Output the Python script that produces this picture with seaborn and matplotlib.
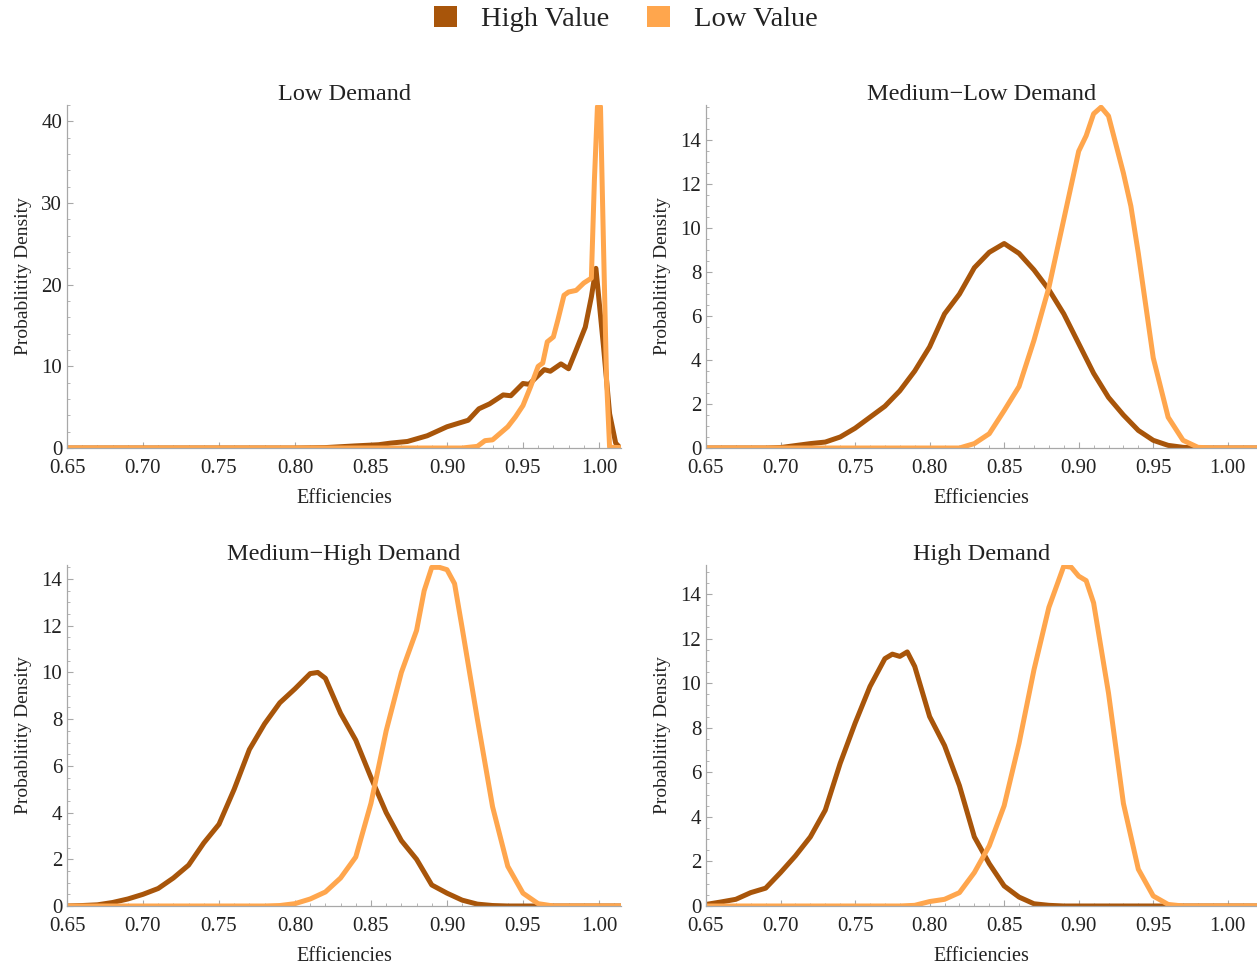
import numpy as np
import pandas as pd
import seaborn as sns
import matplotlib
matplotlib.use("Agg")
import matplotlib.pyplot as plt
from matplotlib.patches import Patch
from matplotlib.ticker import MultipleLocator, FormatStrFormatter

# ---------------- data ----------------
panel_titles = ["Low Demand", "Medium\u2212Low Demand", "Medium\u2212High Demand", "High Demand"]
series_names = ["High Value", "Low Value"]

# Low Demand
ld_high_x = [0.65, 0.80, 0.82, 0.839, 0.855, 0.863, 0.874, 0.887, 0.90, 0.914, 0.921, 0.928, 0.937,
             0.942, 0.950, 0.954, 0.964, 0.968, 0.975, 0.980, 0.985, 0.991, 0.995, 0.998, 1.003,
             1.007, 1.011, 1.014, 1.02]
ld_high_y = [0.0, 0.0, 0.05, 0.25, 0.4, 0.6, 0.8, 1.5, 2.6, 3.4, 4.8, 5.4, 6.5,
             6.4, 7.9, 7.8, 9.6, 9.4, 10.3, 9.7, 12.0, 14.8, 18.5, 22.0, 12.4,
             4.2, 0.6, 0.0, 0.0]
ld_low_x = [0.65, 0.90, 0.91, 0.92, 0.925, 0.93, 0.935, 0.94, 0.945, 0.95, 0.955, 0.96, 0.963,
            0.966, 0.970, 0.973, 0.977, 0.980, 0.985, 0.990, 0.995, 0.997, 0.999, 1.001,
            1.003, 1.005, 1.007, 1.02]
ld_low_y = [0.0, 0.0, 0.0, 0.2, 0.9, 1.0, 1.8, 2.6, 3.8, 5.2, 7.5, 10.0, 10.4,
            13.0, 13.6, 15.7, 18.7, 19.1, 19.3, 20.2, 20.8, 32.8, 41.8, 41.8,
            24.7, 8.3, 0.1, 0.0]

# Medium-Low Demand
ml_high_x = [0.65, 0.69, 0.70, 0.72, 0.73, 0.74, 0.75, 0.76, 0.77, 0.78, 0.79, 0.80, 0.81, 0.82,
             0.83, 0.84, 0.85, 0.86, 0.87, 0.88, 0.89, 0.90, 0.91, 0.92, 0.93, 0.94, 0.95,
             0.96, 0.97, 0.98, 1.02]
ml_high_y = [0.0, 0.0, 0.02, 0.2, 0.27, 0.5, 0.9, 1.4, 1.9, 2.6, 3.5, 4.6, 6.1, 7.0,
             8.2, 8.9, 9.3, 8.85, 8.1, 7.2, 6.1, 4.75, 3.4, 2.3, 1.5, 0.8, 0.35,
             0.12, 0.03, 0.0, 0.0]
ml_low_x = [0.65, 0.82, 0.83, 0.84, 0.85, 0.86, 0.87, 0.88, 0.89, 0.90, 0.905, 0.91, 0.915,
            0.92, 0.93, 0.935, 0.94, 0.95, 0.96, 0.97, 0.98, 0.99, 1.02]
ml_low_y = [0.0, 0.0, 0.2, 0.65, 1.7, 2.8, 4.9, 7.3, 10.4, 13.5, 14.2, 15.2, 15.5,
            15.1, 12.5, 11.0, 8.85, 4.1, 1.4, 0.35, 0.03, 0.0, 0.0]

# Medium-High Demand
mh_high_x = [0.65, 0.66, 0.67, 0.68, 0.69, 0.70, 0.71, 0.72, 0.73, 0.74, 0.75, 0.76, 0.77, 0.78,
             0.79, 0.80, 0.81, 0.815, 0.82, 0.83, 0.84, 0.85, 0.86, 0.87, 0.88, 0.89, 0.90,
             0.91, 0.92, 0.93, 0.94, 1.02]
mh_high_y = [0.0, 0.02, 0.05, 0.15, 0.3, 0.5, 0.75, 1.2, 1.75, 2.7, 3.5, 5.0, 6.7, 7.8,
             8.7, 9.3, 9.95, 10.0, 9.75, 8.25, 7.1, 5.5, 4.0, 2.8, 2.0, 0.9, 0.55,
             0.25, 0.08, 0.02, 0.0, 0.0]
mh_low_x = [0.65, 0.78, 0.79, 0.80, 0.81, 0.82, 0.83, 0.84, 0.85, 0.86, 0.87, 0.88, 0.885,
            0.89, 0.895, 0.90, 0.905, 0.91, 0.92, 0.93, 0.94, 0.95, 0.96, 0.97, 1.02]
mh_low_y = [0.0, 0.0, 0.02, 0.1, 0.3, 0.6, 1.2, 2.1, 4.4, 7.5, 10.0, 11.8, 13.5,
            14.5, 14.5, 14.4, 13.8, 11.9, 8.0, 4.25, 1.7, 0.55, 0.1, 0.0, 0.0]

# High Demand
hd_high_x = [0.65, 0.66, 0.67, 0.68, 0.69, 0.70, 0.71, 0.72, 0.73, 0.74, 0.75, 0.76, 0.77, 0.775,
             0.78, 0.785, 0.79, 0.80, 0.81, 0.82, 0.83, 0.84, 0.85, 0.86, 0.87, 0.88, 0.89, 1.02]
hd_high_y = [0.07, 0.18, 0.3, 0.6, 0.8, 1.5, 2.25, 3.1, 4.3, 6.4, 8.2, 9.85, 11.1, 11.3,
             11.2, 11.4, 10.75, 8.5, 7.2, 5.4, 3.1, 1.9, 0.9, 0.4, 0.1, 0.03, 0.0, 0.0]
hd_low_x = [0.65, 0.78, 0.79, 0.80, 0.81, 0.82, 0.83, 0.84, 0.85, 0.86, 0.87, 0.88, 0.89,
            0.895, 0.90, 0.905, 0.91, 0.92, 0.93, 0.94, 0.95, 0.96, 0.97, 1.02]
hd_low_y = [0.0, 0.0, 0.03, 0.2, 0.3, 0.6, 1.5, 2.7, 4.5, 7.3, 10.6, 13.4, 15.25,
            15.2, 14.8, 14.6, 13.6, 9.55, 4.6, 1.65, 0.45, 0.07, 0.0, 0.0]

x_ticks = [0.65, 0.70, 0.75, 0.80, 0.85, 0.90, 0.95, 1.00]
y_ticks_low = [0, 10, 20, 30, 40]
y_ticks_other = [0, 2, 4, 6, 8, 10, 12, 14]

# ---------------- styling ----------------
sns.set_theme(style="ticks")
plt.rcParams['font.family'] = ['Liberation Serif', 'DejaVu Serif']

colors = {"High Value": "#A8550A", "Low Value": "#FFA64D"}
axis_gray = "#A8A8A8"
text_col = "#222222"

fig = plt.figure(figsize=(12.57, 9.68), dpi=100)
W, H = 1257.0, 968.0

# axes boxes in pixels: (left, right, top, bottom)
boxes = [(67, 621, 105, 448), (706, 1257, 105, 448),
         (67, 621, 565, 906), (706, 1257, 565, 906)]
ylims = [42.0, 15.6, 14.6, 15.3]
xmaxes = [1.0145, 1.0196, 1.0145, 1.0196]

panels = [
    (ld_high_x, ld_high_y, ld_low_x, ld_low_y),
    (ml_high_x, ml_high_y, ml_low_x, ml_low_y),
    (mh_high_x, mh_high_y, mh_low_x, mh_low_y),
    (hd_high_x, hd_high_y, hd_low_x, hd_low_y),
]

for i, (title, box, ymax, xmax, pdata) in enumerate(zip(panel_titles, boxes, ylims, xmaxes, panels)):
    l, r, t, b = box
    ax = fig.add_axes([l / W, 1 - b / H, (r - l) / W, (b - t) / H])
    hx, hy, lx, ly = pdata
    df = pd.concat([
        pd.DataFrame({"x": hx, "y": hy, "series": series_names[0]}),
        pd.DataFrame({"x": lx, "y": ly, "series": series_names[1]}),
    ], ignore_index=True)
    sns.lineplot(data=df, x="x", y="y", hue="series", palette=colors,
                 hue_order=series_names, linewidth=3.6, ax=ax, legend=False,
                 sort=False, estimator=None)
    for ln in ax.lines:
        ln.set_solid_joinstyle("round")
        ln.set_solid_capstyle("round")
    ax.set_xlim(0.65, xmax)
    ax.set_ylim(0, ymax)
    ax.set_xticks(x_ticks)
    ax.xaxis.set_major_formatter(FormatStrFormatter("%.2f"))
    ax.xaxis.set_minor_locator(MultipleLocator(0.01))
    if i == 0:
        ax.set_yticks(y_ticks_low)
        ax.yaxis.set_minor_locator(MultipleLocator(2))
    else:
        ax.set_yticks(y_ticks_other)
        ax.yaxis.set_minor_locator(MultipleLocator(0.5))
    for s in ["top", "right"]:
        ax.spines[s].set_visible(False)
    for s in ["left", "bottom"]:
        ax.spines[s].set_color(axis_gray)
        ax.spines[s].set_linewidth(0.9)
    ax.tick_params(axis="both", which="major", direction="in", length=4, width=0.8,
                   color=axis_gray, labelsize=15, labelcolor=text_col)
    ax.tick_params(axis="x", which="major", pad=7.8)
    ax.tick_params(axis="y", which="major", pad=3.5)
    ax.tick_params(axis="both", which="minor", direction="in", length=2, width=0.6,
                   color=axis_gray)
    ax.set_xlabel("Efficiencies", fontsize=14.5, color=text_col, labelpad=8)
    ax.set_ylabel("Probablitity Density", fontsize=14, color=text_col, labelpad=7)
    ax.set_title(title, fontsize=17.5, color=text_col, pad=2)
    ax.set_facecolor("white")

handles = [Patch(facecolor=colors[n], edgecolor="none", label=n) for n in series_names]
fig.legend(handles=handles, loc="center", bbox_to_anchor=(0.498, 1 - 19 / H), ncol=2,
           frameon=False, fontsize=20.5, handlelength=0.8, handleheight=0.8,
           handletextpad=0.85, columnspacing=1.35, labelcolor=text_col)

fig.savefig("out.png", dpi=100, facecolor="white")
